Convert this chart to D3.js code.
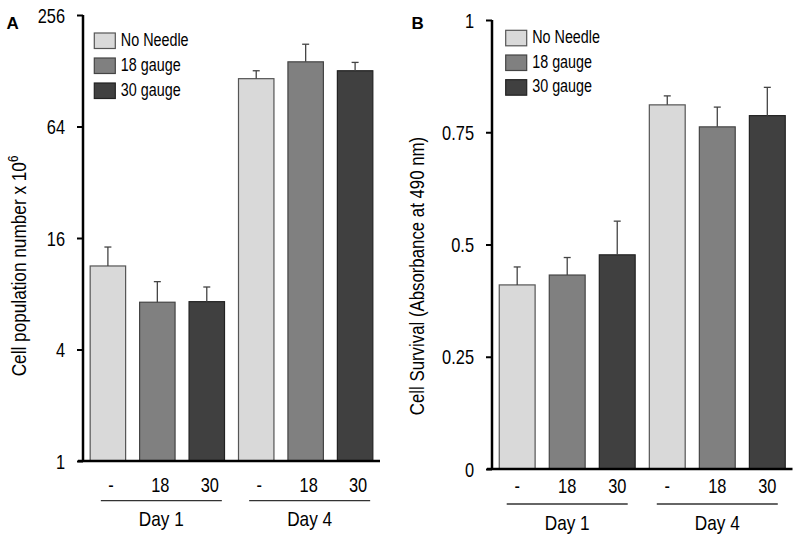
<!DOCTYPE html>
<html>
<head>
<meta charset="utf-8">
<script src="https://cdn.jsdelivr.net/npm/d3@7"></script>
<style>
  body { margin: 0; background: #fff; }
  svg text { font-family: "Liberation Sans", Arial, sans-serif; fill: #000; }
</style>
</head>
<body>
<svg id="chart" width="800" height="541"></svg>
<script>
var days = ["Day 1", "Day 4"];
var needles = ["No Needle", "18 gauge", "30 gauge"];
var needleLabels = ["-", "18", "30"];
var colors = ["#d9d9d9", "#808080", "#404040"];
var outlines = ["#555555", "#444444", "#222222"];

// panel A: cell population number x 10^6 (log2 axis)
var popValues = [11.3, 7.2, 7.25, 116, 143, 128];
var popErrTop = [14.3, 9.3, 8.7, 128, 178, 142];
var popTicks = [1, 4, 16, 64, 256];

// panel B: absorbance at 490 nm
var survValues = [0.41, 0.432, 0.477, 0.811, 0.762, 0.787];
var survErrTop = [0.45, 0.471, 0.552, 0.831, 0.806, 0.85];
var survTicks = [0, 0.25, 0.5, 0.75, 1];

// the original uses a condensed face; squeeze the regular one
var squeeze = 0.82;

var svg = d3.select("#chart");

function rows(values, errTop) {
  var out = [];
  days.forEach(function(day, i) {
    needles.forEach(function(n, j) {
      out.push({day: day, needle: n, idx: j, key: day + "|" + n,
                value: values[i * 3 + j], err: errTop[i * 3 + j]});
    });
  });
  return out;
}

function placeText(sel, fx, fy) {
  sel.attr("transform", function(d, i) {
    var px = typeof fx === "function" ? fx(d, i) : fx;
    var py = typeof fy === "function" ? fy(d, i) : fy;
    return "translate(" + px + "," + py + ") scale(" + squeeze + ",1)";
  });
}

function drawPanel(p) {
  var data = rows(p.values, p.errTop);

  var x = d3.scaleBand()
    .domain(data.map(function(d) { return d.key; }))
    .range([p.x0, p.x1])
    .paddingInner(0.283)
    .paddingOuter(0.145);

  var y = p.y;

  var g = svg.append("g");

  // bars
  g.selectAll(".bar")
    .data(data)
    .enter().append("rect")
    .attr("class", "bar")
    .attr("x", function(d) { return x(d.key); })
    .attr("y", function(d) { return y(d.value); })
    .attr("width", x.bandwidth())
    .attr("height", function(d) { return y(p.base) - y(d.value); })
    .style("fill", function(d) { return colors[d.idx]; })
    .style("stroke", function(d) { return outlines[d.idx]; })
    .style("stroke-width", 1.2);

  // error bars (upper only)
  var eb = g.selectAll(".err")
    .data(data)
    .enter().append("g")
    .attr("class", "err")
    .style("stroke", "#444")
    .style("stroke-width", 1.3);
  eb.append("line")
    .attr("x1", function(d) { return x(d.key) + x.bandwidth() / 2; })
    .attr("x2", function(d) { return x(d.key) + x.bandwidth() / 2; })
    .attr("y1", function(d) { return y(d.value); })
    .attr("y2", function(d) { return y(d.err); });
  eb.append("line")
    .attr("x1", function(d) { return x(d.key) + x.bandwidth() / 2 - 3.5; })
    .attr("x2", function(d) { return x(d.key) + x.bandwidth() / 2 + 3.5; })
    .attr("y1", function(d) { return y(d.err); })
    .attr("y2", function(d) { return y(d.err); });

  // y axis
  var yAxis = g.append("g")
    .attr("transform", "translate(" + p.x0 + ",0)")
    .call(d3.axisLeft(y).tickValues(p.ticks).tickSize(6).tickPadding(12)
      .tickFormat(function(d) { return String(d); }));
  yAxis.attr("font-family", null).attr("font-size", null);
  yAxis.select(".domain").attr("d", "M0," + y(p.base) + "V" + y(p.ticks[p.ticks.length - 1]))
    .style("stroke", "#000").style("stroke-width", 2.5);
  yAxis.selectAll(".tick line").style("stroke", "#000").style("stroke-width", 2);
  yAxis.selectAll(".tick text")
    .style("font-size", "20px")
    .attr("x", -18 / squeeze)
    .attr("dy", "0.36em")
    .attr("transform", "scale(" + squeeze + ",1)");

  // x baseline
  g.append("line")
    .attr("x1", p.x0 - 5)
    .attr("x2", p.x1)
    .attr("y1", y(p.base))
    .attr("y2", y(p.base))
    .style("stroke", "#000")
    .style("stroke-width", 2.5);

  // needle labels
  g.selectAll(".nl")
    .data(data)
    .enter().append("text")
    .attr("class", "nl")
    .attr("text-anchor", "middle")
    .style("font-size", "20px")
    .text(function(d) { return needleLabels[d.idx]; })
    .call(placeText, function(d) { return x(d.key) + x.bandwidth() / 2 + p.labelShift; }, p.labelY);

  // day groups
  days.forEach(function(day) {
    var first = x(day + "|" + needles[0]);
    var last = x(day + "|" + needles[2]) + x.bandwidth();
    var mid = (first + last) / 2 + p.groupShift;
    g.append("line")
      .attr("x1", mid - 60.5)
      .attr("x2", mid + 60.5)
      .attr("y1", p.lineY)
      .attr("y2", p.lineY)
      .style("stroke", "#333")
      .style("stroke-width", 1.3);
    g.append("text")
      .attr("text-anchor", "middle")
      .style("font-size", "21px")
      .text(day)
      .call(placeText, mid, p.dayY);
  });

  // legend
  var leg = g.selectAll(".leg")
    .data(needles)
    .enter().append("g")
    .attr("class", "leg")
    .attr("transform", function(d, i) { return "translate(" + p.legX + "," + (p.legY + i * p.legStep) + ")"; });
  leg.append("rect")
    .attr("width", 21)
    .attr("height", 15.5)
    .style("fill", function(d, i) { return colors[i]; })
    .style("stroke", function(d, i) { return outlines[i]; })
    .style("stroke-width", 1.2);
  leg.append("text")
    .style("font-size", "17.5px")
    .text(function(d) { return d; })
    .call(placeText, 26.5, 12.5);

  // y label
  var yl = g.append("text")
    .attr("transform", "translate(" + p.ylabX + "," + p.ylabY + ") rotate(-90) scale(" + squeeze + ",1)")
    .attr("text-anchor", "middle")
    .style("font-size", p.ylabSize + "px");
  p.ylabel(yl);

  // panel letter
  g.append("text")
    .attr("x", p.letterX)
    .attr("y", 28.5)
    .style("font-weight", "bold")
    .style("font-size", "17px")
    .text(p.letter);
}

drawPanel({
  letter: "A", letterX: 6.5,
  values: popValues, errTop: popErrTop, ticks: popTicks, base: 1,
  y: d3.scaleLog().base(2).domain([1, 256]).range([461, 15]),
  x0: 83, x1: 380,
  labelY: 491.5, labelShift: 3, lineY: 500.7, dayY: 525.5, groupShift: 4,
  legX: 94.3, legY: 33, legStep: 25,
  ylabX: 26, ylabY: 266, ylabSize: 21,
  ylabel: function(t) {
    t.append("tspan").text("Cell population number x 10");
    t.append("tspan").attr("dy", -8).style("font-size", "14px").text("6");
  }
});

drawPanel({
  letter: "B", letterX: 411.5,
  values: survValues, errTop: survErrTop, ticks: survTicks, base: 0,
  y: d3.scaleLinear().domain([0, 1]).range([469, 20]),
  x0: 492, x1: 792.5,
  labelY: 493.3, labelShift: 0, lineY: 504, dayY: 530, groupShift: 0,
  legX: 505.7, legY: 30.3, legStep: 24.7,
  ylabX: 424, ylabY: 276, ylabSize: 20.5,
  ylabel: function(t) {
    t.text("Cell Survival (Absorbance at 490 nm)");
  }
});
</script>
</body>
</html>
